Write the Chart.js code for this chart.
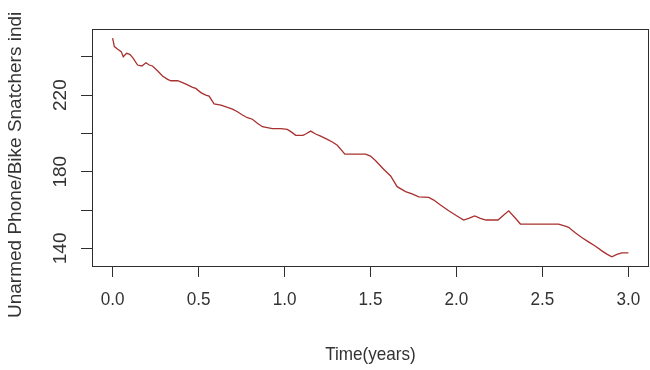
<!DOCTYPE html>
<html>
<head>
<meta charset="utf-8">
<script src="https://cdn.jsdelivr.net/npm/chart.js@4/dist/chart.umd.min.js"></script>
<style>
  html, body { margin: 0; padding: 0; background: #fff; }
  #wrap { width: 650px; height: 370px; }
</style>
</head>
<body>
<div id="wrap"><canvas id="c" width="650" height="370"></canvas></div>
<script>
// Time in years since start of the series
const times = [
  0.000, 0.010, 0.030, 0.050, 0.062, 0.081, 0.100, 0.120, 0.145, 0.170,
  0.194, 0.213, 0.232, 0.261, 0.290, 0.320, 0.339, 0.378, 0.407, 0.436,
  0.465, 0.484, 0.513, 0.542, 0.561, 0.590, 0.630, 0.668, 0.697, 0.726,
  0.755, 0.784, 0.813, 0.842, 0.871, 0.900, 0.929, 0.978, 1.016, 1.045,
  1.065, 1.107, 1.123, 1.152, 1.181, 1.210, 1.249, 1.278, 1.307, 1.351,
  1.471, 1.500, 1.530, 1.578, 1.617, 1.655, 1.704, 1.742, 1.781, 1.839,
  1.868, 1.907, 1.955, 2.003, 2.042, 2.071, 2.106, 2.139, 2.172, 2.242,
  2.275, 2.304, 2.343, 2.372, 2.594, 2.633, 2.652, 2.691, 2.729, 2.768,
  2.807, 2.846, 2.875, 2.904, 2.933, 2.962, 3.000
];
// Unarmed phone / bike snatchers index
const snatchers = [
  249.7, 245.3, 243.9, 242.7, 240.0, 241.8, 241.3, 239.2, 235.7, 235.2,
  236.9, 235.7, 235.2, 232.7, 230.0, 228.2, 227.5, 227.5, 226.5, 225.3,
  224.0, 223.5, 221.3, 220.0, 219.5, 215.4, 214.8, 213.6, 212.7, 211.3,
  209.6, 208.2, 207.4, 205.3, 203.5, 203.0, 202.5, 202.5, 202.1, 200.4,
  199.0, 199.0, 199.7, 201.2, 199.7, 198.6, 196.9, 195.5, 193.8, 189.2,
  189.2, 188.2, 185.7, 181.2, 177.8, 172.2, 169.6, 168.4, 166.9, 166.6,
  165.2, 162.6, 159.6, 156.9, 154.8, 155.7, 156.9, 155.7, 154.8, 154.8,
  157.4, 159.6, 155.7, 152.7, 152.7, 151.6, 151.0, 148.1, 145.7, 143.4,
  141.2, 138.7, 137.0, 135.6, 136.9, 137.7, 137.7
];
const xTicks = [0, 0.5, 1, 1.5, 2, 2.5, 3];
const yTicks = [140, 160, 180, 200, 220, 240];
const yLabelled = [140, 180, 220];

const xTitle = 'Time(years)';
const yTitle = 'Unarmed Phone/Bike Snatchers indi';

const TEXT = '#333333';
const AXIS = '#2e2e2e';
const FONT = "'Liberation Sans', Arial, sans-serif";
const NARROW = 0.9; // horizontal squeeze of the bottom axis text

// Plot frame around the whole plotting region
const framePlugin = {
  id: 'frame',
  afterDraw(chart) {
    const { ctx, chartArea: a } = chart;
    ctx.save();
    ctx.strokeStyle = AXIS;
    ctx.lineWidth = 1;
    ctx.strokeRect(Math.round(a.left) + 0.5, Math.round(a.top) + 0.5,
                   Math.round(a.right - a.left) - 1, Math.round(a.bottom - a.top));
    ctx.restore();
  }
};

// Bottom axis labels and title, in a condensed face
const xTextPlugin = {
  id: 'xText',
  afterDraw(chart) {
    const { ctx, chartArea: a } = chart;
    const sx = chart.scales.x;
    ctx.save();
    ctx.fillStyle = TEXT;
    ctx.font = '19px ' + FONT;
    ctx.textAlign = 'center';
    ctx.textBaseline = 'middle';
    sx.ticks.forEach(t => {
      ctx.save();
      ctx.translate(sx.getPixelForValue(t.value), 300);
      ctx.scale(NARROW, 1);
      ctx.fillText(Number(t.value).toFixed(1), 0, 0);
      ctx.restore();
    });
    ctx.save();
    ctx.translate((a.left + a.right) / 2, 355);
    ctx.scale(NARROW, 1);
    ctx.fillText(xTitle, 0, 0);
    ctx.restore();
    ctx.restore();
  }
};

// Vertical axis title, read bottom to top
const yTitlePlugin = {
  id: 'yTitle',
  afterDraw(chart) {
    const { ctx } = chart;
    ctx.save();
    ctx.fillStyle = TEXT;
    ctx.font = '19px ' + FONT;
    ctx.textAlign = 'left';
    ctx.textBaseline = 'alphabetic';
    ctx.translate(21, 318);
    ctx.rotate(-Math.PI / 2);
    ctx.fillText(yTitle, 0, 0);
    ctx.restore();
  }
};

new Chart(document.getElementById('c'), {
  type: 'line',
  data: {
    datasets: [{
      data: times.map((t, i) => ({ x: t, y: snatchers[i] })),
      borderColor: '#a8302f',
      borderWidth: 1.3,
      pointRadius: 0,
      tension: 0,
      fill: false
    }]
  },
  options: {
    responsive: false,
    animation: false,
    events: [],
    layout: { padding: { top: 29, right: 1, left: 0, bottom: 0 } },
    plugins: { legend: { display: false }, tooltip: { enabled: false } },
    scales: {
      x: {
        type: 'linear',
        min: -0.12,
        max: 3.12,
        afterBuildTicks: s => { s.ticks = xTicks.map(v => ({ value: v })); },
        afterFit: s => { s.height = 104; },
        grid: { display: true, drawOnChartArea: false, drawTicks: true, tickLength: 11, color: AXIS, lineWidth: 1 },
        border: { display: false },
        ticks: { display: false }
      },
      y: {
        type: 'linear',
        min: 130.8,
        max: 254.5,
        afterBuildTicks: s => { s.ticks = yTicks.map(v => ({ value: v })); },
        afterFit: s => { s.width = 92; },
        grid: { display: true, drawOnChartArea: false, drawTicks: true, tickLength: 11, color: AXIS, lineWidth: 1 },
        border: { display: false },
        ticks: {
          color: TEXT,
          font: { family: FONT, size: 19 },
          minRotation: 90,
          maxRotation: 90,
          crossAlign: 'center',
          padding: 4,
          callback: v => (yLabelled.includes(v) ? String(v) : '')
        }
      }
    }
  },
  plugins: [framePlugin, xTextPlugin, yTitlePlugin]
});
</script>
</body>
</html>
